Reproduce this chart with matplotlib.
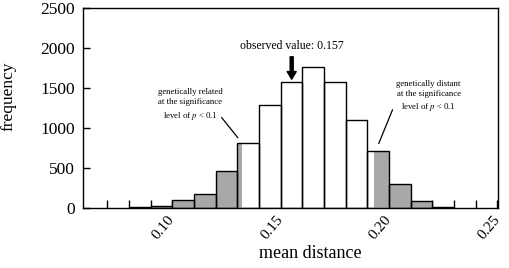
import matplotlib
matplotlib.use('Agg')
import matplotlib.pyplot as plt
import numpy as np

plt.rcParams['font.family'] = ['Liberation Serif', 'DejaVu Serif']
plt.rcParams['mathtext.fontset'] = 'stix'

# histogram of simulated mean distances, bins of 0.01
bin_left = [0.08, 0.09, 0.10, 0.11, 0.12, 0.13, 0.14, 0.15, 0.16, 0.17,
            0.18, 0.19, 0.20, 0.21, 0.22]
freq = [10, 31, 94, 170, 459, 810, 1290, 1575, 1760, 1575,
        1095, 714, 304, 82, 10]
bin_w = 0.01
lo_cut = 0.1323   # lower significance threshold (p < 0.1)
hi_cut = 0.1931   # upper significance threshold
observed = 0.157
arrow_x = 0.1551

GRAY = '#a8a8a8'
bl = np.array(bin_left); fr = np.array(freq)
colors = [GRAY if (b + bin_w <= lo_cut or b >= hi_cut) else 'white' for b in bl]

fig = plt.figure(figsize=(5.1, 2.68), dpi=100)
ax = fig.add_axes([83/510, 1-208/268, 415/510, 200/268])

ax.bar(bl, fr, width=bin_w, align='edge', color=colors, edgecolor='none', zorder=2)
# partial gray fill in the bins that straddle the thresholds
for b, f in zip(bl, fr):
    if b < lo_cut < b + bin_w:
        ax.bar(b, f, width=lo_cut-b, align='edge', color=GRAY, edgecolor='none', zorder=3)
    if b < hi_cut < b + bin_w:
        ax.bar(hi_cut, f, width=b+bin_w-hi_cut, align='edge', color=GRAY, edgecolor='none', zorder=3)
ax.bar(bl, fr, width=bin_w, align='edge', fill=False, edgecolor='black', linewidth=1.0, zorder=4)

ax.set_xlim(0.0588, 0.2503)
ax.set_ylim(0, 2500)
ax.set_xticks(np.round(np.arange(0.07, 0.2501, 0.01), 2), minor=True)
ax.set_xticks([0.10, 0.15, 0.20, 0.25])
ax.set_xticklabels(['0.10', '0.15', '0.20', '0.25'], rotation=50, ha='right',
                   va='center', rotation_mode='anchor', fontsize=11)
ax.tick_params(axis='x', which='both', direction='in', length=6, width=1, pad=7)
ax.set_yticks([0, 500, 1000, 1500, 2000, 2500])
ax.tick_params(axis='y', direction='in', length=5, width=1, pad=6, labelsize=12.5)
for s in ax.spines.values():
    s.set_linewidth(1.0)

ax.set_ylabel('frequency', fontsize=12.5)
ax.yaxis.set_label_coords(-0.16, 0.56)
ax.set_xlabel('mean distance', fontsize=13, va='top')
ax.xaxis.set_label_coords(0.547, -0.185)

ax.annotate('', xy=(arrow_x, 1610), xytext=(arrow_x, 1890),
            arrowprops=dict(facecolor='black', edgecolor='black', width=2.2,
                            headwidth=6.5, headlength=5.5), zorder=5)
ax.text(arrow_x, 2020, f'observed value: {observed}', ha='center', va='center', fontsize=8.5)

ax.text(0.1082, 1290, 'genetically related\nat the significance\nlevel of $p$ < 0.1',
        ha='center', va='center', fontsize=6.3, linespacing=1.4)
ax.plot([0.1228, 0.1302], [1130, 880], color='black', lw=0.9, zorder=5)
ax.text(0.2183, 1394, 'genetically distant\nat the significance\nlevel of $p$ < 0.1',
        ha='center', va='center', fontsize=6.3, linespacing=1.4)
ax.plot([0.1953, 0.2016], [808, 1226], color='black', lw=0.9, zorder=5)

fig.savefig('out.png', dpi=100)
